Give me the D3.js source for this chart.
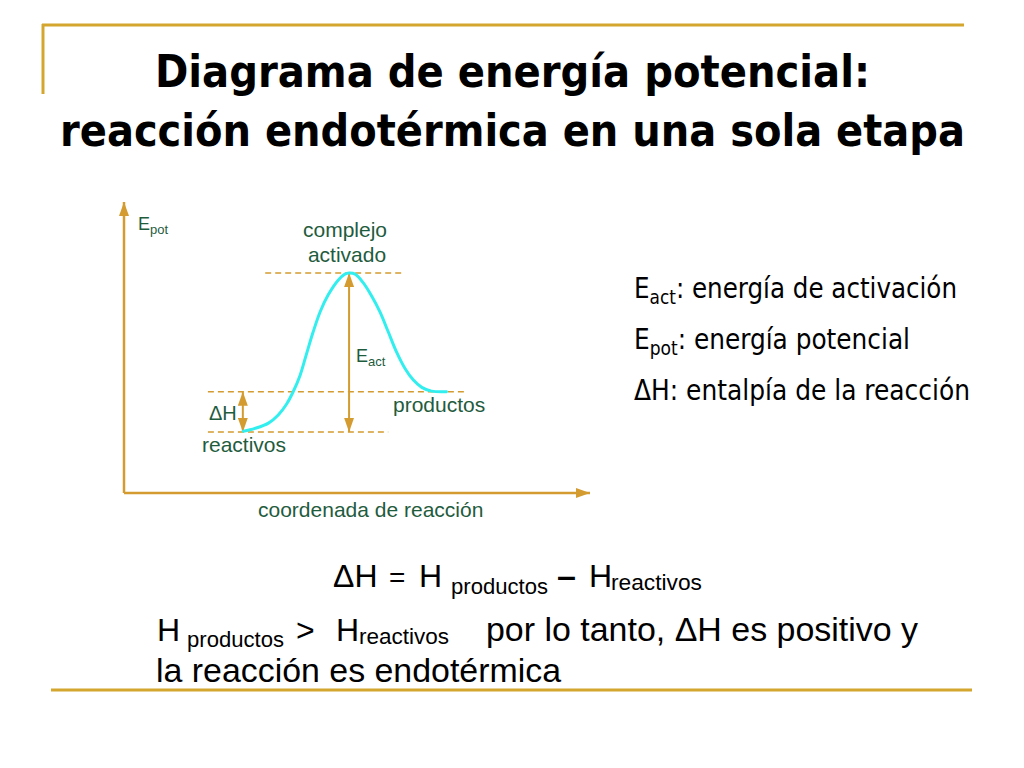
<!DOCTYPE html>
<html>
<head>
<meta charset="utf-8">
<script src="https://cdn.jsdelivr.net/npm/d3@7"></script>
<style>
  body { margin: 0; background: #fff; }
  svg { display: block; }
</style>
</head>
<body>
<div id="chart"></div>
<script>
// values: reaction coordinate 0-100, energy 0-100
const reactionCoord = [25.6, 28.1, 31.0, 33.1, 34.9, 36.3, 37.8, 39.2, 40.6, 42.1, 43.8, 46.0, 47.4,
                       48.3, 49.6, 51.4, 53.2, 54.9, 56.7, 58.5, 60.3, 62.1, 63.9, 66.0, 69.2]
const energy        = [21.2, 22.2, 24.0, 26.8, 30.6, 34.8, 40.5, 48.0, 55.4, 62.3, 68.0, 73.2, 75.2,
                       75.6, 75.2, 72.1, 67.5, 62.3, 55.4, 48.4, 42.8, 38.8, 36.3, 35.0, 34.8]

// dashed energy levels
const levelNames  = ["complejo activado", "productos", "reactivos"]
const levelEnergy = [75.6, 34.8, 21.0]
const levelStart  = [30.3, 18.0, 18.0]
const levelEnd    = [60.3, 73.2, 56.7]

// double arrows (ΔH and Eact)
const arrowNames = ["ΔH", "Eact"]
const arrowCoord = [25.5, 48.3]
const arrowFrom  = [21.0, 21.0]
const arrowTo    = [34.8, 75.6]

// legend on the right
const legendSymbols = ["E", "E", "ΔH"]
const legendSubs    = ["act", "pot", ""]
const legendTexts   = [": energía de activación", ": energía potencial", ": entalpía de la reacción"]

const width = 1024
const height = 768
const gold = "#d4a62e"
const axisColor = "#d49c30"
const green = "#1f5c3e"
const tahoma = "Tahoma, 'DejaVu Sans Condensed', 'DejaVu Sans', sans-serif"
const arial = "Arial, 'Liberation Sans', sans-serif"

const svg = d3.select("#chart")
    .append("svg")
      .attr("width", width)
      .attr("height", height)

const defs = svg.append("defs")
defs.append("marker")
    .attr("id", "tri")
    .attr("viewBox", "0 0 14 10")
    .attr("refX", 14).attr("refY", 5)
    .attr("markerWidth", 14).attr("markerHeight", 10)
    .attr("markerUnits", "userSpaceOnUse")
    .attr("orient", "auto-start-reverse")
  .append("path")
    .attr("d", "M0,0 L14,5 L0,10 Z")
    .attr("fill", axisColor)

// slide frame lines
const frame = svg.append("g").attr("id", "frame")
    .attr("stroke", gold).attr("stroke-width", 3)
frame.append("line").attr("x1", 42).attr("x2", 964).attr("y1", 25).attr("y2", 25)
frame.append("line").attr("x1", 43).attr("x2", 43).attr("y1", 24).attr("y2", 94)
frame.append("line").attr("x1", 51).attr("x2", 972).attr("y1", 690).attr("y2", 690)

// title
const title = svg.append("g").attr("id", "title")
    .attr("font-family", tahoma).attr("font-weight", "bold").attr("font-size", 45).attr("fill", "#000")
title.append("text").attr("x", 155).attr("y", 87)
    .attr("textLength", 715).attr("lengthAdjust", "spacingAndGlyphs")
    .text("Diagrama de energía potencial:")
title.append("text").attr("x", 60).attr("y", 146)
    .attr("textLength", 905).attr("lengthAdjust", "spacingAndGlyphs")
    .text("reacción endotérmica en una sola etapa")

// scales
const x = d3.scaleLinear().domain([0, 100]).range([124, 590])
const y = d3.scaleLinear().domain([0, 100]).range([493, 202])

const chart = svg.append("g").attr("id", "elementGroup")

// axes with arrow heads
chart.append("line")
    .attr("x1", x(0)).attr("y1", y(0)).attr("x2", x(0)).attr("y2", y(100))
    .attr("stroke", axisColor).attr("stroke-width", 2.5)
    .attr("marker-end", "url(#tri)")
chart.append("line")
    .attr("x1", x(0)).attr("y1", y(0)).attr("x2", x(100)).attr("y2", y(0))
    .attr("stroke", axisColor).attr("stroke-width", 2.5)
    .attr("marker-end", "url(#tri)")

// dashed levels
chart.selectAll(".level").data(levelNames).enter().append("line")
    .attr("class", "level")
    .attr("x1", (d, i) => x(levelStart[i]))
    .attr("x2", (d, i) => x(levelEnd[i]))
    .attr("y1", (d, i) => y(levelEnergy[i]))
    .attr("y2", (d, i) => y(levelEnergy[i]))
    .attr("stroke", axisColor).attr("stroke-width", 1.5)
    .attr("stroke-dasharray", "6,4")

// double arrows
chart.selectAll(".dArrow").data(arrowNames).enter().append("line")
    .attr("class", "dArrow")
    .attr("x1", (d, i) => x(arrowCoord[i]))
    .attr("x2", (d, i) => x(arrowCoord[i]))
    .attr("y1", (d, i) => y(arrowFrom[i]))
    .attr("y2", (d, i) => y(arrowTo[i]))
    .attr("stroke", axisColor).attr("stroke-width", 2)
    .attr("marker-start", "url(#tri)")
    .attr("marker-end", "url(#tri)")

// energy curve
const curveData = reactionCoord.map((c, i) => ({c: c, e: energy[i]}))
const line = d3.line()
    .x(d => x(d.c))
    .y(d => y(d.e))
    .curve(d3.curveCatmullRom)
chart.append("path")
    .datum(curveData)
    .attr("fill", "none")
    .attr("stroke", "#33eeee")
    .attr("stroke-width", 3)
    .attr("stroke-linecap", "round")
    .attr("d", line)

// chart labels
const labels = chart.append("g").attr("font-family", arial).attr("fill", green)
const ep = labels.append("text").attr("x", 138).attr("y", 230).attr("font-size", 18)
ep.append("tspan").text("E")
ep.append("tspan").attr("font-size", 13).attr("dy", 4).text("pot")

labels.append("text").attr("x", 345).attr("y", 237).attr("font-size", 21)
    .attr("text-anchor", "middle").text("complejo")
labels.append("text").attr("x", 347).attr("y", 262).attr("font-size", 21)
    .attr("text-anchor", "middle").text("activado")

const ea = labels.append("text").attr("x", 356).attr("y", 362).attr("font-size", 18)
ea.append("tspan").text("E")
ea.append("tspan").attr("font-size", 13).attr("dy", 4).text("act")

labels.append("text").attr("x", 393).attr("y", 412).attr("font-size", 21).text("productos")
labels.append("text").attr("x", 209).attr("y", 420).attr("font-size", 20).text("ΔH")
labels.append("text").attr("x", 202).attr("y", 452).attr("font-size", 21).text("reactivos")
labels.append("text").attr("x", 258).attr("y", 517).attr("font-size", 21).text("coordenada de reacción")

// legend
const legendLen = [323, 276, 336]
const legend = svg.append("g").attr("id", "legend")
    .attr("font-family", tahoma).attr("font-size", 29).attr("fill", "#000")
legendSymbols.forEach((s, i) => {
  const t = legend.append("text")
      .attr("x", 634).attr("y", 298 + i * 51)
      .attr("textLength", legendLen[i]).attr("lengthAdjust", "spacingAndGlyphs")
  t.append("tspan").text(s)
  if (legendSubs[i]) {
    t.append("tspan").attr("font-size", 20).attr("dy", 6).text(legendSubs[i])
    t.append("tspan").attr("dy", -6).text(legendTexts[i])
  } else {
    t.append("tspan").text(legendTexts[i])
  }
})

// bottom formula and sentence
const bottom = svg.append("g").attr("font-family", arial).attr("fill", "#000")
function put(tx, ty, size, str, len) {
  const t = bottom.append("text").attr("x", tx).attr("y", ty).attr("font-size", size).text(str)
  if (len) t.attr("textLength", len).attr("lengthAdjust", "spacingAndGlyphs")
  return t
}
put(333, 587, 32, "ΔH")
put(389, 587, 28, "=")
put(419, 587, 32, "H")
put(451, 594, 22, "productos", 97)
put(557, 587, 34, "–").attr("font-weight", "bold")
put(589, 587, 32, "H")
put(611, 590, 22, "reactivos", 91)

put(157, 641, 32, "H")
put(187, 647, 22, "productos", 97)
put(296, 641, 32, ">")
put(336, 641, 32, "H")
put(359, 644, 22, "reactivos", 90)
put(486, 641, 33, "por lo tanto, ΔH es positivo y", 432)
put(156, 682, 33, "la reacción es endotérmica", 405)
</script>
</body>
</html>
